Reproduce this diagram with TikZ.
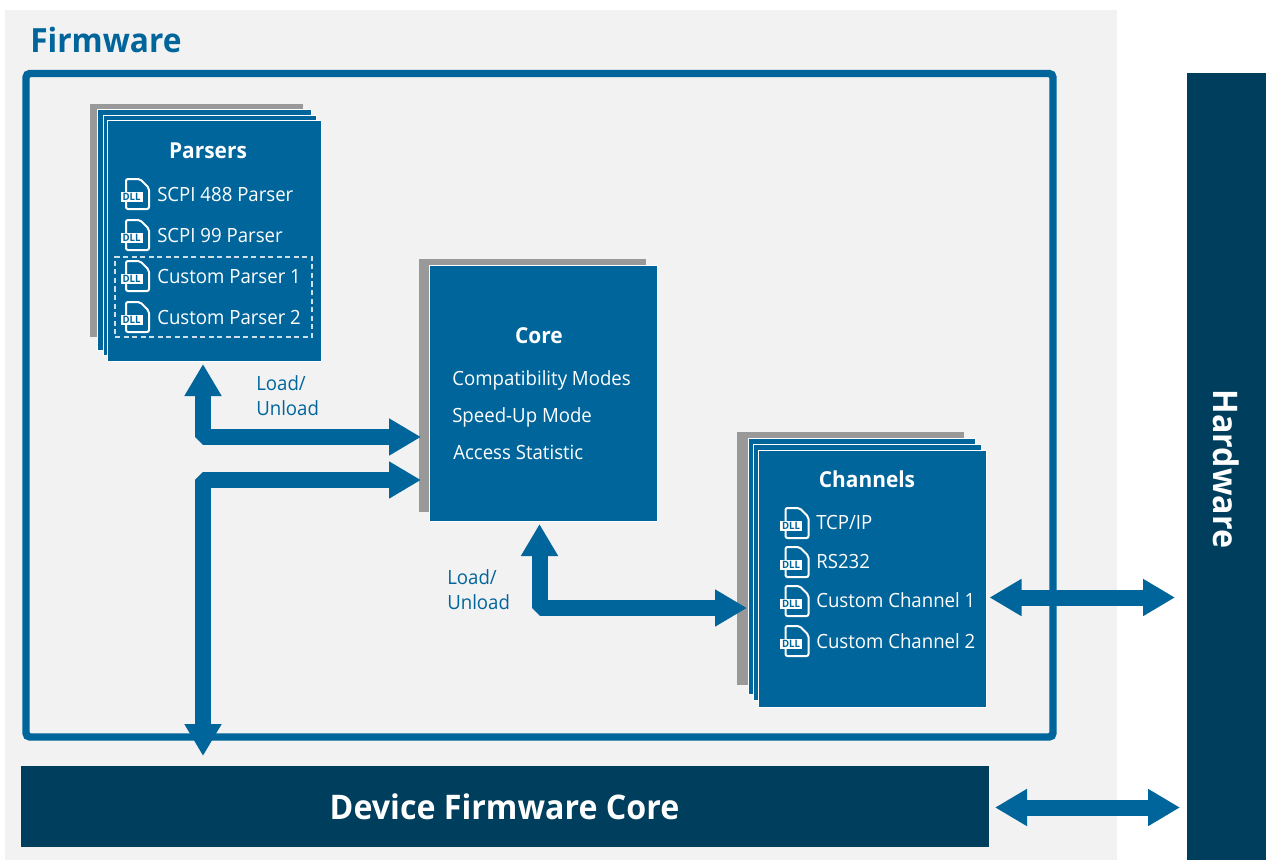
\documentclass[tikz,border=0pt]{standalone}
\usepackage{fontspec}
\setmainfont[FakeStretch=0.95]{Open Sans}
\usetikzlibrary{arrows.meta,fit}
\definecolor{fwblue}{HTML}{00659B}
\definecolor{fwdark}{HTML}{003E5E}
\definecolor{fwgrey}{HTML}{999999}
\definecolor{fwbg}{HTML}{F2F2F2}
\tikzset{
  x=0.75pt,y=-0.75pt,
  sheet/.style={fill=fwblue,draw=white,line width=0.75pt,inner sep=0pt,outer sep=0pt},
  backsheet/.style={fill=fwgrey,inner sep=0pt,outer sep=0pt},
  darkbox/.style={fill=fwdark,inner sep=0pt,outer sep=0pt,text=white},
  frameline/.style={draw=fwblue,line width=5.6pt,rounded corners=3pt,inner sep=0pt,outer sep=0pt},
  dashbox/.style={draw=white!80!fwblue,line width=0.8pt,dash pattern=on 3.8pt off 2.6pt,inner sep=0pt},
  item/.style={text=white,anchor=base west,inner sep=0pt,font=\fontsize{14.7}{18}\selectfont},
  heading/.style={text=white,anchor=base,inner sep=0pt,font=\fontsize{16.5}{20}\selectfont\bfseries},
  bluetext/.style={text=fwblue,anchor=base west,inner sep=0pt,font=\fontsize{14.7}{18}\selectfont},
  bigtitle/.style={text=white,inner sep=0pt,font=\fontsize{25.4}{30}\selectfont\bfseries},
  blockarrow/.style={draw=fwblue,line width=12pt,line join=bevel},
  htip/.tip={Triangle[length=24pt,width=26.25pt]},
}
\newcommand{\dllicon}[3]{%
  \begin{scope}[shift={(#2,#3)}]
    \draw[white,line width=1.5pt,rounded corners=1.5pt] (0,0) -- (14,0) -- (23,9) -- (23,30) -- (0,30) -- cycle;
    \node[fill=white,text=fwblue,inner sep=0pt,minimum width=16.5pt,minimum height=7.5pt,font=\fontsize{7.6}{8}\selectfont\bfseries] (#1) at (5.5,17.5) {DLL};
  \end{scope}}
\begin{document}
\begin{tikzpicture}
\useasboundingbox (0,0) rectangle (1266,860);
\fill[white] (0,0) rectangle (1266,860);
\node[fill=fwbg,inner sep=0pt,outer sep=0pt,fit={(5,10)(1117,860)}] (firmwarebg) {};
\node[anchor=base west,inner sep=0pt,text=fwblue,font=\fontsize{25}{30}\selectfont\bfseries] (firmwaretitle) at (30,52) {Firmware};
\node[frameline,fit={(26,73.5)(1053,737)}] (frame) {};

% Parsers
\node[backsheet,fit={(90,104)(303,337)}] (pback) {};
\node[sheet,fit={(97,109)(311,350)}] (pa) {};
\node[sheet,fit={(103,115)(316,355)}] (pb) {};
\node[sheet,fit={(107.5,120)(321.5,361)}] (parsers) {};
\node[heading] (parsertitle) at (208,158) {Parsers};
\dllicon{d1}{126}{179}
\dllicon{d2}{126}{220}
\dllicon{d3}{126}{261}
\dllicon{d4}{126}{302}
\node[item] (p1) at (157,201) {SCPI 488 Parser};
\node[item] (p2) at (157,242) {SCPI 99 Parser};
\node[item] (p3) at (157,283) {Custom Parser 1};
\node[item] (p4) at (157,324) {Custom Parser 2};
\node[dashbox,fit={(115,257)(312,337)}] (customparsers) {};

% Core
\node[backsheet,fit={(419,259)(646,512)}] (coreback) {};
\node[sheet,fit={(429.5,265)(657.5,521)}] (core) {};
\node[heading] (coretitle) at (539,343) {Core};
\node[item] (c1) at (452,385) {Compatibility Modes};
\node[item] (c2) at (452,422) {Speed-Up Mode};
\node[item] (c3) at (453,459) {Access Statistic};

% Channels
\node[backsheet,fit={(737,432)(964,685)}] (chback) {};
\node[sheet,fit={(748,438)(975,694)}] (cha) {};
\node[sheet,fit={(753,444)(981,700)}] (chb) {};
\node[sheet,fit={(758.5,450)(986.5,707)}] (channels) {};
\node[heading] (channeltitle) at (867,487) {Channels};
\dllicon{e1}{785.5}{508}
\dllicon{e2}{785.5}{547}
\dllicon{e3}{785.5}{586}
\dllicon{e4}{785.5}{626}
\node[item] (h1) at (816,529) {TCP/IP};
\node[item] (h2) at (816,568) {RS232};
\node[item] (h3) at (816,607) {Custom Channel 1};
\node[item] (h4) at (816,648) {Custom Channel 2};

% Dark bars
\node[darkbox,fit={(1187,73)(1266,860)}] (hardware) {};
\node[bigtitle,rotate=-90] (hardwaretitle) at (1226,469) {Hardware};
\node[darkbox,fit={(21,766)(989,847)}] (devicecore) {};
\node[bigtitle,anchor=base] (devicetitle) at (504.5,819) {Device Firmware Core};

% Labels
\node[bluetext] (l1a) at (256,390) {Load/};
\node[bluetext] (l1b) at (256,415) {Unload};
\node[bluetext] (l2a) at (447,584) {Load/};
\node[bluetext] (l2b) at (447,609) {Unload};

% Connectors
\coordinate (elbowa) at (203,437);
\coordinate (elbowb) at (203,480);
\coordinate (elbowc) at (539.5,608);
\coordinate (rowa) at (0,597.5);
\coordinate (rowb) at (0,807.5);
\draw[blockarrow,{htip}-{htip}] ([yshift=-2.25pt]parsers.south -| elbowa) -- (elbowa) -- ([xshift=1.5pt]coreback.west |- elbowa);
\draw[blockarrow,{htip}-{htip}] ([yshift=7.5pt]devicecore.north -| elbowb) -- (elbowb) -- ([xshift=1.5pt]coreback.west |- elbowb);
\draw[blockarrow,{htip}-{htip}] ([yshift=-2.25pt]core.south -| elbowc) -- (elbowc) -- ([xshift=7.5pt]chback.west |- elbowc);
\draw[blockarrow,{htip}-{htip}] ([xshift=2.25pt]channels.east |- rowa) -- ([xshift=-9pt]hardware.west |- rowa);
\draw[blockarrow,{htip}-{htip}] ([xshift=4.5pt]devicecore.east |- rowb) -- ([xshift=-5.25pt]hardware.west |- rowb);
\end{tikzpicture}
\end{document}
